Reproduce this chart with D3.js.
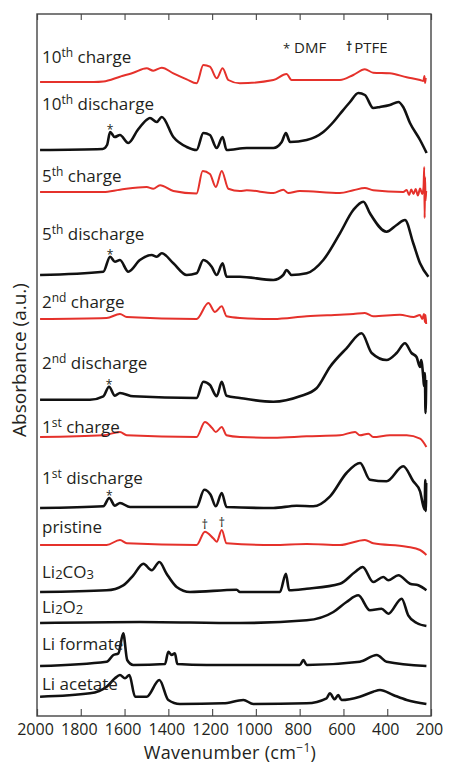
<!DOCTYPE html>
<html>
<head>
<meta charset="UTF-8">
<title>FTIR spectra</title>
<script src="https://cdnjs.cloudflare.com/ajax/libs/d3/7.8.5/d3.min.js"></script>
<style>
body { margin: 0; background: #fff; }
text { font-family: "Open Sans", sans-serif; fill: #231f20; font-weight: 500; }
</style>
</head>
<body>
<svg id="chart" width="449" height="765"></svg>
<script>
// ---- data ----
var xTicks = [2000, 1800, 1600, 1400, 1200, 1000, 800, 600, 400, 200];

var names = ["10th charge", "10th discharge", "5th charge", "5th discharge", "2nd charge",
    "2nd discharge", "1st charge", "1st discharge", "pristine", "Li2CO3", "Li2O2",
    "Li formate", "Li acetate"];

// label pieces: [text, kind]  kind = "" | "sup" | "sub"
var labels = [
    [["10", ""], ["th", "sup"], [" charge", ""]],
    [["10", ""], ["th", "sup"], [" discharge", ""]],
    [["5", ""], ["th", "sup"], [" charge", ""]],
    [["5", ""], ["th", "sup"], [" discharge", ""]],
    [["2", ""], ["nd", "sup"], [" charge", ""]],
    [["2", ""], ["nd", "sup"], [" discharge", ""]],
    [["1", ""], ["st", "sup"], [" charge", ""]],
    [["1", ""], ["st", "sup"], [" discharge", ""]],
    [["pristine", ""]],
    [["Li", ""], ["2", "sub"], ["CO", ""], ["3", "sub"]],
    [["Li", ""], ["2", "sub"], ["O", ""], ["2", "sub"]],
    [["Li formate", ""]],
    [["Li acetate", ""]]
];

// red = charged / pristine electrode, black = discharged / reference
var kinds = ["charge", "discharge", "charge", "discharge", "charge", "discharge", "charge",
    "discharge", "charge", "ref", "ref", "ref", "ref"];

// vertical offsets of each trace (a.u.)
var offsets = [63.4, 56.6, 52.4, 44.1, 39.7, 31.8, 27.9, 20.8, 17.1, 12.4, 9.4, 5.1, 1.6];

// [wavenumber, absorbance above trace baseline]
var charge10 = [[1986, 0], [1740, 0], [1697, 0.05], [1621, 0.53], [1560, 0.93], [1499, 1.37],
    [1469, 1.13], [1430, 1.43], [1377, 0.87], [1316, 0.27], [1271, -0.13], [1240, 1.7],
    [1210, 1.53], [1179, 0.37], [1152, 1.37], [1126, 0.2], [1073, -0.13], [920, 0.2],
    [860, 0.8], [837, 0.2], [616, 0.2], [555, 0.7], [502, 1.27], [464, 0.93], [388, 0.87],
    [311, 0.47], [250, 0.2], [235, 0.1], [230, 0.6], [227, -0.1], [224, 0.4]];

var discharge10 = [[1986, 0], [1700, 0.1], [1680, 0.5], [1666, 1.8], [1645, 1.3], [1621, 1.5],
    [1583, 0.7], [1540, 2.0], [1500, 3.0], [1484, 3.2], [1453, 2.8], [1430, 3.3], [1377, 1.3],
    [1316, 0.3], [1271, 0], [1240, 1.7], [1210, 1.5], [1179, 0.2], [1152, 1.3], [1134, 0],
    [1042, 0.2], [920, 0.2], [882, 0.8], [863, 1.7], [844, 0.8], [768, 1.0], [692, 1.8],
    [646, 2.8], [616, 3.6], [570, 4.8], [532, 5.7], [502, 5.5], [464, 4.2], [433, 4.3],
    [388, 4.5], [349, 4.8], [327, 4.3], [296, 2.7], [250, 1.0], [220, -0.3]];

var charge5 = [[1986, 0], [1697, 0], [1621, 0.23], [1499, 0.5], [1469, 0.33], [1438, 0.67],
    [1377, 0.1], [1271, -0.15], [1243, 2.1], [1210, 1.8], [1183, 0.5], [1156, 2.1],
    [1126, 0.33], [1073, 0.1], [1042, 0.17], [920, -0.1], [875, 0.23], [852, -0.1],
    [800, 0.1], [616, -0.1], [555, 0.17], [502, 0.4], [464, 0.17], [327, 0], [311, 0.2],
    [300, -0.3], [290, 0.25], [280, -0.2], [270, 0.3], [260, -0.35], [250, 0.35], [240, -0.2],
    [234, 0.5], [231, 2.5], [229, -2.6], [227, 1.5], [225, -0.9], [222, 0.1]];

var discharge5 = [[1986, 0], [1697, 0.33], [1666, 1.83], [1644, 1.33], [1621, 1.5], [1583, 0.33],
    [1530, 1.5], [1476, 2.0], [1453, 1.83], [1430, 2.17], [1377, 1.17], [1316, 0], [1271, 0.17],
    [1240, 1.5], [1202, 0.83], [1179, 0], [1152, 1.17], [1134, -0.17], [1073, -0.17],
    [920, -0.5], [875, 0], [860, 0.5], [837, 0], [768, 0.17], [692, 1.5], [616, 4.17],
    [555, 6.5], [509, 7.33], [479, 6.17], [403, 4.33], [357, 5.0], [319, 5.5], [281, 3.17],
    [250, 1.17], [212, -0.17]];

var charge2 = [[1986, 0], [1682, 0.1], [1621, 0.5], [1590, 0.2], [1271, 0], [1217, 1.6],
    [1187, 0.7], [1156, 1.27], [1134, 0.27], [1073, 0.1], [920, 0], [768, 0.27], [616, 0.43],
    [555, 0.5], [502, 0.6], [464, 0.27], [342, 0.43], [280, 0.2], [250, 0.4], [240, 0],
    [232, 0.5], [228, -0.3], [225, 0.4], [222, -0.5]];

var discharge2 = [[1986, -0.17], [1758, -0.17], [1697, 0.17], [1671, 1.13], [1644, 0.23],
    [1621, 0.5], [1560, 0.17], [1271, 0], [1240, 1.63], [1210, 1.3], [1179, 0.17], [1156, 1.63],
    [1134, 0.23], [1073, 0], [920, -0.37], [799, 0.17], [723, 0.97], [661, 3.13], [586, 4.97],
    [517, 6.47], [471, 4.5], [403, 3.8], [357, 4.5], [319, 5.47], [289, 4.5], [266, 4.1],
    [250, 3.1], [245, 3.8], [235, 2.0], [232, 1.2], [228, 2.5], [225, -1.5], [222, 1.8]];

var charge1 = [[1986, 0], [1697, 0.17], [1621, 0.5], [1590, 0.17], [1271, 0], [1233, 1.5],
    [1200, 0.9], [1183, 0.5], [1156, 1.0], [1134, 0.17], [1073, 0], [920, -0.07], [768, 0.07],
    [616, 0.17], [547, 0.5], [525, 0.17], [486, 0.33], [464, 0], [388, 0.17], [311, 0.17],
    [250, -0.17], [221, -1.0]];

var discharge1 = [[1986, 0], [1697, 0.17], [1670, 1.0], [1644, 0.23], [1621, 0.5], [1575, 0.1],
    [1271, 0.1], [1236, 1.83], [1207, 1.33], [1183, 0.17], [1156, 1.5], [1134, 0.1], [920, 0],
    [814, 0.23], [738, 0.17], [661, 1.17], [586, 3.5], [524, 4.5], [479, 2.83], [403, 2.67],
    [327, 4.17], [281, 2.67], [250, 1.67], [229, -0.17], [226, 2.8], [224, -0.3], [222, 2.5]];

var pristine = [[1986, 0], [1682, 0], [1621, 0.5], [1590, 0.17], [1271, 0], [1233, 1.33],
    [1195, 0.67], [1179, 0.33], [1156, 1.5], [1134, 0.17], [920, 0], [768, 0.1], [616, 0],
    [502, 0.5], [464, 0.17], [311, -0.17], [250, -0.5], [221, -1.0]];

var li2co3 = [[1986, 0], [1682, 0.17], [1606, 0.67], [1560, 1.67], [1514, 2.83], [1476, 2.17],
    [1441, 3.0], [1408, 1.83], [1362, 0.5], [1301, 0], [1088, 0.23], [1073, 0], [890, 0],
    [863, 1.83], [848, 0.17], [768, 0.33], [616, 0.83], [547, 2.0], [512, 2.5], [464, 1.0],
    [418, 1.5], [395, 1.17], [349, 1.67], [296, 0.83], [258, 0.67], [221, 0.17]];

var li2o2 = [[1986, -0.1], [1530, 0], [1073, -0.1], [768, 0.17], [646, 1.0], [586, 2.0],
    [532, 2.67], [479, 1.17], [426, 1.33], [395, 0.83], [334, 2.33], [304, 0.67], [265, -0.1],
    [221, -0.4]];

var liFormate = [[1986, -0.1], [1682, 0.33], [1651, 1.0], [1628, 1.17], [1606, 3.17], [1588, 0.5],
    [1560, 0], [1415, 0.1], [1400, 1.33], [1385, 1.0], [1370, 1.17], [1359, 0.1], [1225, 0],
    [799, 0], [783, 0.5], [768, 0], [525, 0.33], [448, 1.0], [403, 0.33], [221, -0.1]];

var liAcetate = [[1986, 0.33], [1758, 0.67], [1682, 1.33], [1644, 2.17], [1621, 2.5], [1598, 2.17],
    [1578, 2.5], [1552, 0.33], [1499, 0.33], [1441, 2.0], [1400, 0], [1347, -0.4], [1149, -0.33],
    [1057, 0], [1012, -0.4], [768, -0.33], [677, 0.17], [662, 0.67], [640, 0.07], [624, 0.5],
    [609, 0], [525, 0.33], [464, 0.83], [433, 1.0], [373, 0.5], [311, 0], [221, -0.4]];

var spectra = [charge10, discharge10, charge5, discharge5, charge2, discharge2, charge1,
    discharge1, pristine, li2co3, li2o2, liFormate, liAcetate];

// marked bands
var dmfSeries = [1, 3, 5, 7];      // "*" DMF band
var dmfBand = 1668;
var ptfeBands = [1233, 1156];      // "†" PTFE bands, shown on pristine
var ptfeSeries = 8;

// ---- drawing ----
(function () {
    var svg = d3.select("#chart");
    var mLeft = 37, mRight = 431, mTop = 14, mBottom = 716;

    var x = d3.scaleLinear().domain([2000, 200]).range([mLeft, mRight]);
    var y = d3.scaleLinear().domain([0, 70.2]).range([mBottom, mTop]);

    var colour = { charge: "#e5312b", discharge: "#111", ref: "#111" };

    // label baseline, px above trace baseline
    var labelLift = [19, 40, 10, 35, 11, 29, 4, 24, 12, 14, 9, 15, 10];

    var line = d3.line().curve(d3.curveMonotoneX);

    spectra.forEach(function (s, i) {
        var off = offsets[i];
        svg.append("path")
            .attr("d", line(s.map(function (d) { return [x(d[0]), y(d[1] + off)]; })))
            .attr("fill", "none")
            .attr("stroke", colour[kinds[i]])
            .attr("stroke-width", kinds[i] == "charge" ? 2 : 2.6)
            .attr("stroke-linejoin", "round");

        var t = svg.append("text")
            .attr("x", mLeft + 5)
            .attr("y", y(off) - labelLift[i])
            .attr("font-size", 17);
        var prev = "";
        labels[i].forEach(function (p) {
            var ts = t.append("tspan").text(p[0]);
            if (p[1] == "sup") ts.attr("font-size", 12).attr("dy", -6);
            else if (p[1] == "sub") ts.attr("font-size", 13).attr("dy", 1);
            else if (prev == "sup") ts.attr("dy", 6);
            else if (prev == "sub") ts.attr("dy", -1);
            prev = p[1];
        });
    });

    function peakAt(s, w) {
        var best = s[0];
        s.forEach(function (d) { if (Math.abs(d[0] - w) < Math.abs(best[0] - w)) best = d; });
        return best;
    }

    dmfSeries.forEach(function (i) {
        var p = peakAt(spectra[i], dmfBand);
        svg.append("text")
            .attr("x", x(p[0]))
            .attr("y", y(p[1] + offsets[i]) + 2)
            .attr("text-anchor", "middle")
            .attr("font-size", 12)
            .text("*");
    });

    ptfeBands.forEach(function (w) {
        var p = peakAt(spectra[ptfeSeries], w);
        svg.append("text")
            .attr("x", x(p[0]))
            .attr("y", y(p[1] + offsets[ptfeSeries]) - 3)
            .attr("text-anchor", "middle")
            .attr("font-size", 13)
            .attr("font-weight", 700)
            .text("\u2020");
    });

    // legend for the marks
    var leg = svg.append("text").attr("x", 283).attr("y", 53).attr("font-size", 15);
    leg.append("tspan").text("*").attr("font-size", 13);
    leg.append("tspan").text(" DMF");
    var leg2 = svg.append("text").attr("x", 346).attr("y", 53).attr("font-size", 15);
    leg2.append("tspan").text("\u2020").attr("font-size", 12).attr("font-weight", 700).attr("dy", -2);
    leg2.append("tspan").text("PTFE").attr("dy", 2).attr("dx", 2);

    // axes with inward ticks, bottom and top
    var xb = svg.append("g").attr("transform", "translate(0," + mBottom + ")")
        .call(d3.axisBottom(x).tickValues(xTicks).tickFormat(d3.format("d"))
            .tickSizeInner(-7).tickSizeOuter(0).tickPadding(8));
    xb.select(".domain").remove();
    xb.selectAll("line").attr("stroke", "#555").attr("stroke-width", 1.2);
    xb.selectAll("text").attr("font-size", 16).attr("font-family", "Open Sans, sans-serif")
        .attr("font-weight", 500).attr("fill", "#231f20").attr("dx", -2);

    var xt = svg.append("g").attr("transform", "translate(0," + mTop + ")")
        .call(d3.axisTop(x).tickValues(xTicks).tickSizeInner(-6).tickSizeOuter(0).tickFormat(""));
    xt.select(".domain").remove();
    xt.selectAll("line").attr("stroke", "#555").attr("stroke-width", 1.2);

    svg.append("rect")
        .attr("x", mLeft).attr("y", mTop)
        .attr("width", mRight - mLeft).attr("height", mBottom - mTop)
        .attr("fill", "none").attr("stroke", "#444").attr("stroke-width", 1.4);

    var xl = svg.append("text")
        .attr("x", 230).attr("y", 759)
        .attr("text-anchor", "middle")
        .attr("font-size", 18)
        .attr("letter-spacing", 0.3);
    xl.append("tspan").text("Wavenumber (cm");
    xl.append("tspan").text("\u22121").attr("font-size", 12).attr("dy", -7);
    xl.append("tspan").text(")").attr("dy", 7);

    svg.append("text")
        .attr("transform", "translate(26,360) rotate(-90)")
        .attr("text-anchor", "middle")
        .attr("font-size", 19)
        .text("Absorbance (a.u.)");
})();
</script>
</body>
</html>
